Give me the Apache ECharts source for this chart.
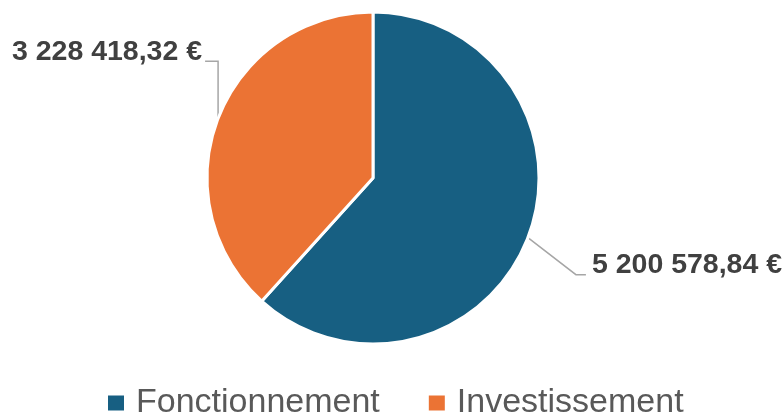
<!DOCTYPE html>
<html>
<head>
<meta charset="utf-8">
<script src="https://cdn.jsdelivr.net/npm/echarts@6/dist/echarts.min.js"></script>
<style>
  html, body { margin: 0; padding: 0; background: #fff; }
  #main { width: 784px; height: 416px; }
</style>
</head>
<body>
<div id="main"></div>
<script>
// données
var categories = ['Fonctionnement', 'Investissement'];
var values = [5200578.84, 3228418.32];
var colors = ['#175f82', '#eb7334'];

function formatEuro(v) {
    var parts = v.toFixed(2).split('.');
    var ent = parts[0].replace(/\B(?=(\d{3})+(?!\d))/g, ' ');
    return ent + ',' + parts[1] + ' €';
}

var dataArray = [];
for (var i = 0; i < categories.length; i++) {
    dataArray.push({ name: categories[i], value: values[i], itemStyle: { color: colors[i] } });
}

var myChart = echarts.init(document.getElementById('main'), null, { renderer: 'canvas' });
var option = {
    animation: false,
    legend: {
        data: categories,
        left: 106,
        top: 386,
        padding: 0,
        icon: 'rect',
        itemWidth: 18,
        itemHeight: 17,
        itemGap: 47,
        textStyle: {
            fontFamily: '"Liberation Sans", Arial, sans-serif',
            fontSize: 34,
            color: '#595959',
            padding: [0, 0, 0, 6]
        }
    },
    series: [{
        type: 'pie',
        center: [373, 178],
        radius: [0, 166],
        startAngle: 90,
        clockwise: true,
        data: dataArray,
        itemStyle: { borderColor: '#ffffff', borderWidth: 3 },
        label: {
            show: true,
            position: 'outside',
            overflow: 'none',
            formatter: function (p) { return formatEuro(p.value); },
            fontFamily: '"Liberation Sans", Arial, sans-serif',
            fontWeight: 'bold',
            fontSize: 28.5,
            color: '#404040'
        },
        labelLine: {
            show: true,
            length: 20,
            length2: 10,
            lineStyle: { color: '#a6a6a6', width: 1.5 }
        },
        labelLayout: function (params) {
            var pts = params.labelLinePoints;
            if (!pts) return {};
            var e = pts[0];
            if (params.dataIndex === 1) {
                return {
                    x: e[0] - 16,
                    y: e[1] - 66,
                    align: 'right',
                    verticalAlign: 'middle',
                    labelLinePoints: [[e[0], e[1]], [e[0], e[1] - 57], [e[0] - 13, e[1] - 57]]
                };
            }
            return {
                x: e[0] + 64,
                y: e[1] + 27,
                align: 'left',
                verticalAlign: 'middle',
                labelLinePoints: [[e[0], e[1]], [e[0] + 48, e[1] + 37], [e[0] + 58, e[1] + 37]]
            };
        }
    }]
};
myChart.setOption(option);
</script>
</body>
</html>
